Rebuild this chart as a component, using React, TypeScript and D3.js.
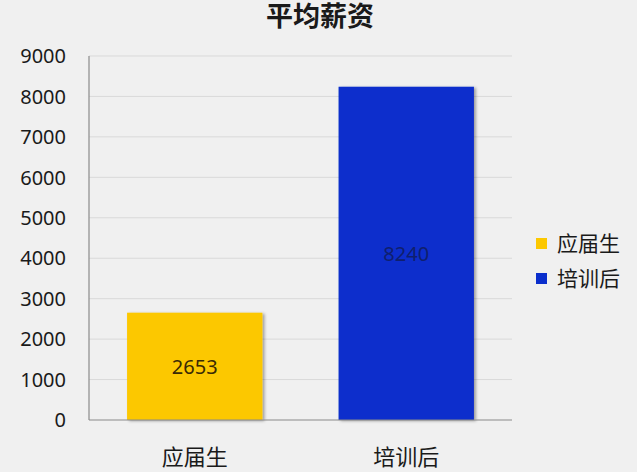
import { useMemo } from "react";
import { scaleBand, scaleLinear } from "d3";

// --- data ---
const categories = ["应届生", "培训后"];
const salaries = [2653, 8240];
const barColors = ["#fcc800", "#0a2ecc"];
const labelColors = ["#3a2a05", "#0f1f6e"];
const yTicks = [0, 1000, 2000, 3000, 4000, 5000, 6000, 7000, 8000, 9000];
const title = "平均薪资";

const W = 637;
const H = 472;
const plot = { left: 89, right: 512, top: 56, bottom: 420 };

const CJK = '"Noto Sans CJK SC", "Noto Sans", sans-serif';
const NUM = '"Noto Sans", "Open Sans", sans-serif';

export default function App() {
  const x = useMemo(
    () =>
      scaleBand<string>()
        .domain(categories)
        .range([plot.left, plot.right])
        .paddingInner(0.36)
        .paddingOuter(0.18),
    [],
  );
  const y = useMemo(
    () => scaleLinear().domain([0, 9000]).range([plot.bottom, plot.top]),
    [],
  );

  return (
    <svg
      width={W}
      height={H}
      style={{ position: "absolute", left: 0, top: 0, display: "block", background: "#f0f0f0" }}
    >
      <defs>
        <filter id="barShadow" x="-10%" y="-10%" width="130%" height="130%">
          <feDropShadow dx="2" dy="1" stdDeviation="1.5" floodColor="#000" floodOpacity="0.35" />
        </filter>
      </defs>

      {/* title */}
      <text
        x={320}
        y={26}
        textAnchor="middle"
        fontFamily={CJK}
        fontWeight="bold"
        fontSize={27}
        fill="#1a1a1a"
      >
        {title}
      </text>

      {/* gridlines + tick labels */}
      {yTicks.map((t) => (
        <g key={t}>
          {t > 0 && (
            <line
              x1={plot.left}
              x2={plot.right}
              y1={y(t)}
              y2={y(t)}
              stroke="#d9d9d9"
              strokeWidth={1}
            />
          )}
          <text
            x={66}
            y={y(t)}
            dy="0.36em"
            textAnchor="end"
            fontFamily={NUM}
            fontSize={20}
            fill="#1a1a1a"
          >
            {t}
          </text>
        </g>
      ))}

      {/* bars */}
      {categories.map((c, i) => {
        const bx = x(c) ?? 0;
        const by = y(salaries[i]);
        const bh = y(0) - by;
        return (
          <g key={c}>
            <rect
              x={bx}
              y={by}
              width={x.bandwidth()}
              height={bh}
              fill={barColors[i]}
              filter="url(#barShadow)"
            />
            <text
              x={bx + x.bandwidth() / 2}
              y={by + bh / 2}
              dy="0.36em"
              textAnchor="middle"
              fontFamily={NUM}
              fontSize={20}
              fill={labelColors[i]}
            >
              {salaries[i]}
            </text>
            <text
              x={bx + x.bandwidth() / 2}
              y={465}
              textAnchor="middle"
              fontFamily={CJK}
              fontSize={22}
              fill="#1a1a1a"
            >
              {c}
            </text>
          </g>
        );
      })}

      {/* axes */}
      <line x1={plot.left} x2={plot.left} y1={plot.top} y2={plot.bottom} stroke="#8a8a8a" strokeWidth={1.2} />
      <line x1={plot.left} x2={plot.right} y1={plot.bottom} y2={plot.bottom} stroke="#8a8a8a" strokeWidth={1.2} />

      {/* legend */}
      {categories.map((c, i) => (
        <g key={c} transform={`translate(536,${238 + i * 35})`}>
          <rect width={11} height={11} fill={barColors[i]} />
          <text x={21} y={5.5} dy="0.36em" fontFamily={CJK} fontSize={21} fill="#1a1a1a">
            {c}
          </text>
        </g>
      ))}
    </svg>
  );
}
